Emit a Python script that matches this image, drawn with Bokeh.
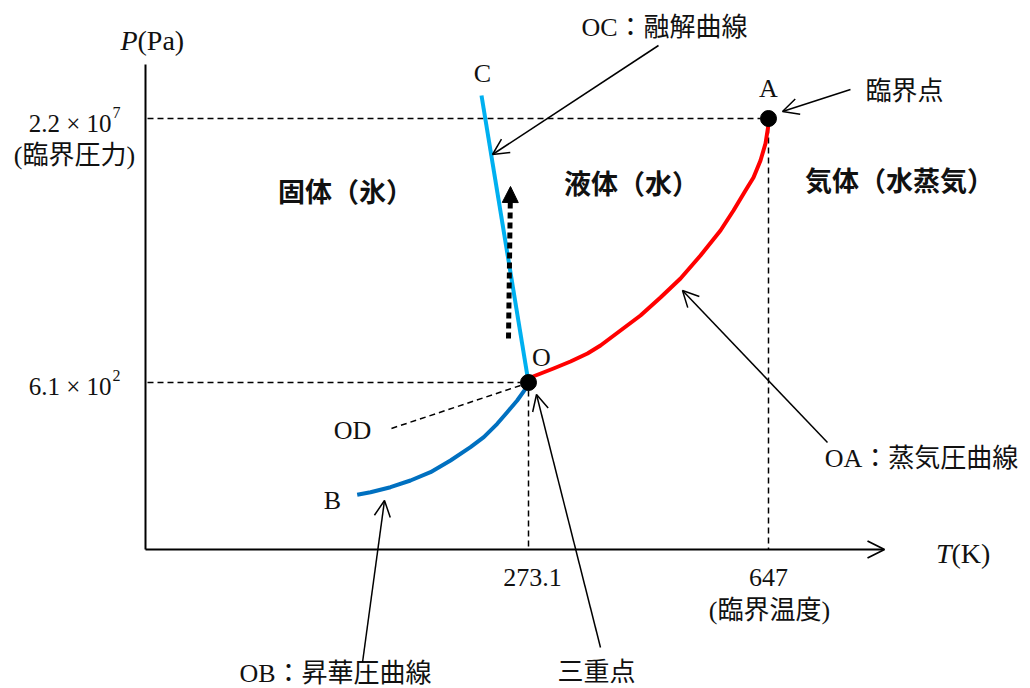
from bokeh.plotting import figure
from bokeh.models import Range1d, Arrow, OpenHead, NormalHead, ColumnDataSource
from bokeh.core.properties import value
from bokeh.embed import file_html
from bokeh.resources import INLINE

# ---- schematic diagram coordinates (y grows downward) ----
# axes
axis_origin = (145, 549)
x_axis_end = 884
y_axis_top = 64

# special points
pt_names = ["O", "A"]
pt_x = [528, 768]
pt_y = [382, 118]

# phase boundary curves
OA_x = [528, 530, 553, 570, 587, 600, 620, 640, 660, 680, 700, 720, 733, 745, 753, 760, 765, 768]
OA_y = [381, 377, 368, 361, 353, 345, 330, 315, 297, 278, 255, 230, 210, 190, 177, 160, 143, 124]
OB_x = [528, 525, 516.7, 506.7, 496.7, 483.3, 470, 450, 430, 410, 390, 370, 356.7]
OB_y = [383, 388.3, 400, 411.7, 423.3, 436.7, 446.7, 460, 471.7, 480, 486.7, 491.7, 494.3]
OC_x = [528, 481]
OC_y = [382, 95]
OD_x = [520, 390]
OD_y = [385, 428.3]

# guide (dashed) lines
guide_x0 = [147, 147, 528, 768]
guide_y0 = [118, 382, 390, 127]
guide_x1 = [760, 520, 528, 768]
guide_y1 = [118, 382, 549, 549]

# annotation arrows (start -> tip)
ann_x0 = [658, 850, 827, 362, 600]
ann_y0 = [45, 89, 442, 662, 647]
ann_x1 = [492, 782, 682, 384, 536]
ann_y1 = [154, 111, 290, 500, 394]

# dotted arrow (pressure increase)
dot_x0, dot_y0, dot_x1, dot_y1 = [508], [338], [510], [186]

SERIF = "'Liberation Serif', 'Noto Sans CJK JP'"
CJK = "'Noto Sans CJK JP'"

# plain serif/cjk labels
lab_text = ["C", "A", "O", "B", "OD", "(臨界圧力)",
            "273.1", "647", "(臨界温度)", "OC：融解曲線", "臨界点", "OA：蒸気圧曲線",
            "OB：昇華圧曲線", "三重点"]
lab_x = [482, 768, 541, 332, 352, 74,
         532, 768, 769, 664, 904, 921,
         335, 596]
lab_y = [73, 88, 357, 500, 430, 155,
         577, 577, 610, 27, 91, 458,
         673, 672]

val_text = ["2.2 \u00d7 10", "6.1 \u00d7 10"]
val_x = [111, 111]
val_y = [123, 386]

sup_text = ["7", "2"]
sup_x = [112, 112]
sup_y = [112, 375]

ital_text = ["P", "T"]
ital_x = [137, 951]
ital_y = [40, 553]

unit_text = ["(Pa)", "(K)"]
unit_x = [137, 951]
unit_y = [40, 553]

region_text = ["固体（氷）", "液体（水）", "気体（水蒸気）"]
region_x = [345, 631, 899]
region_y = [190, 182, 179]

W, H = 1030, 688
p = figure(width=W, height=H, x_range=Range1d(0, W), y_range=Range1d(H, 0),
           output_backend="svg", toolbar_location=None, min_border=0)
p.axis.visible = False
p.grid.visible = False
p.outline_line_color = None
p.background_fill_color = "white"

# axes
p.line([axis_origin[0], axis_origin[0]], [y_axis_top, axis_origin[1]], line_color="black", line_width=2)
p.add_layout(Arrow(end=OpenHead(size=17, line_width=1.8, line_color="black"),
                   x_start=axis_origin[0], y_start=axis_origin[1],
                   x_end=x_axis_end, y_end=axis_origin[1], line_width=2, line_color="black"))

# dashed guides
p.segment(guide_x0, guide_y0, guide_x1, guide_y1, line_color="black", line_width=1.5, line_dash="6 4")
p.line(OD_x, OD_y, line_color="black", line_width=1.5, line_dash="6 4")

# curves
p.line(OB_x, OB_y, line_color="#0070C0", line_width=4, line_join="round")
p.line(OC_x, OC_y, line_color="#00B0F0", line_width=4)
p.line(OA_x, OA_y, line_color="#FF0000", line_width=4, line_join="round")

# points
p.scatter(pt_x, pt_y, size=16, color="black")

# annotation arrows
asrc = ColumnDataSource(dict(x0=ann_x0, y0=ann_y0, x1=ann_x1, y1=ann_y1))
p.add_layout(Arrow(end=OpenHead(size=16, line_width=1.5, line_color="black"),
                   x_start="x0", y_start="y0", x_end="x1", y_end="y1",
                   source=asrc, line_width=1.5, line_color="black"))

# dotted arrow
dsrc = ColumnDataSource(dict(x0=dot_x0, y0=dot_y0, x1=dot_x1, y1=dot_y1))
p.add_layout(Arrow(end=NormalHead(size=16, fill_color="black", line_color="black"),
                   x_start="x0", y_start="y0", x_end="x1", y_end="y1",
                   source=dsrc, line_width=5, line_dash="6 4", line_color="black"))

# texts
p.text(lab_x, lab_y, text=lab_text, text_align="center", text_baseline="middle",
       text_font=value(SERIF), text_font_size="26px", text_color="#111111")
p.text(val_x, val_y, text=val_text, text_align="right", text_baseline="middle",
       text_font=value(SERIF), text_font_size="25px", text_color="#111111")
p.text(sup_x, sup_y, text=sup_text, text_align="left", text_baseline="middle",
       text_font=value(SERIF), text_font_size="16px", text_color="#111111")
p.text(ital_x, ital_y, text=ital_text, text_align="right", text_baseline="middle",
       text_font=value(SERIF), text_font_style="italic", text_font_size="28px", text_color="#111111")
p.text(unit_x, unit_y, text=unit_text, text_align="left", text_baseline="middle",
       text_font=value(SERIF), text_font_size="28px", text_color="#111111")
p.text(region_x, region_y, text=region_text, text_align="center", text_baseline="middle",
       text_font=value(CJK), text_font_style="bold", text_font_size="27px", text_color="#111111")

open("out.html", "w").write(file_html(p, INLINE))
